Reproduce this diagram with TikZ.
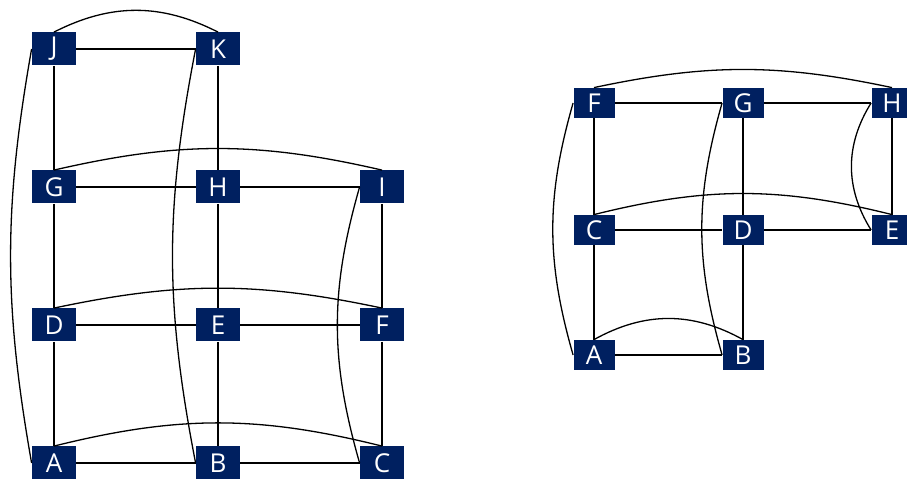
\documentclass[tikz,border=0pt]{standalone}
\usepackage{fontspec}
\setmainfont{Open Sans}
\definecolor{navy}{RGB}{0,32,96}
\tikzset{
    vtx/.style={fill=navy,text=white,inner sep=0pt,minimum width=22pt,minimum height=16.5pt,font=\fontsize{13}{13}\selectfont},
    vtxs/.style={vtx,minimum width=20.5pt,minimum height=15pt},
    edge/.style={line width=0.65pt}
}
\begin{document}
\begin{tikzpicture}[x=0.5pt,y=-0.5pt]

    \useasboundingbox (0,0) rectangle (907,480);

    % Left graph
    \node[vtx] at (54,49) (lJ) {J};
    \node[vtx] at (218,49) (lK) {K};
    \node[vtx] at (54,187) (lG) {G};
    \node[vtx] at (218,187) (lH) {H};
    \node[vtx] at (382,187) (lI) {I};
    \node[vtx] at (54,325) (lD) {D};
    \node[vtx] at (218,325) (lE) {E};
    \node[vtx] at (382,325) (lF) {F};
    \node[vtx] at (54,463) (lA) {A};
    \node[vtx] at (218,463) (lB) {B};
    \node[vtx] at (382,463) (lC) {C};

    \draw[edge] (lJ) -- (lK);
    \draw[edge] (lG) -- (lH);
    \draw[edge] (lH) -- (lI);
    \draw[edge] (lD) -- (lE);
    \draw[edge] (lE) -- (lF);
    \draw[edge] (lA) -- (lB);
    \draw[edge] (lB) -- (lC);
    \draw[edge] (lJ) -- (lG);
    \draw[edge] (lG) -- (lD);
    \draw[edge] (lD) -- (lA);
    \draw[edge] (lK) -- (lH);
    \draw[edge] (lH) -- (lE);
    \draw[edge] (lE) -- (lB);
    \draw[edge] (lI) -- (lF);
    \draw[edge] (lF) -- (lC);

    % Left graph, wrap-around edges
    \draw[edge] (lJ.north) to[bend left=27] (lK.north);
    \draw[edge] (lG.north) to[bend left=13] (lI.north);
    \draw[edge] (lD.north) to[bend left=12] (lF.north);
    \draw[edge] (lA.north) to[bend left=14] (lC.north);
    \draw[edge] (lA.west) to[bend left=10] (lJ.west);
    \draw[edge] (lB.west) to[bend left=11] (lK.west);
    \draw[edge] (lC.west) to[bend left=16] (lI.west);

    % Right graph
    \node[vtxs] at (594,103) (rF) {F};
    \node[vtxs] at (743,103) (rG) {G};
    \node[vtxs] at (892,103) (rH) {H};
    \node[vtxs] at (594,230) (rC) {C};
    \node[vtxs] at (743,230) (rD) {D};
    \node[vtxs] at (892,230) (rE) {E};
    \node[vtxs] at (594,355) (rA) {A};
    \node[vtxs] at (743,355) (rB) {B};

    \draw[edge] (rF) -- (rG);
    \draw[edge] (rG) -- (rH);
    \draw[edge] (rC) -- (rD);
    \draw[edge] (rD) -- (rE);
    \draw[edge] (rA) -- (rB);
    \draw[edge] (rF) -- (rC);
    \draw[edge] (rC) -- (rA);
    \draw[edge] (rG) -- (rD);
    \draw[edge] (rD) -- (rB);
    \draw[edge] (rH) -- (rE);

    % Right graph, wrap-around edges
    \draw[edge] (rF.north) to[bend left=12] (rH.north);
    \draw[edge] (rC.north) to[bend left=14] (rE.north);
    \draw[edge] (rA.north) to[bend left=29] (rB.north);
    \draw[edge] (rA.west) to[bend left=16] (rF.west);
    \draw[edge] (rB.west) to[bend left=16] (rG.west);
    \draw[edge] (rE.west) to[bend left=32] (rH.west);

\end{tikzpicture}
\end{document}
